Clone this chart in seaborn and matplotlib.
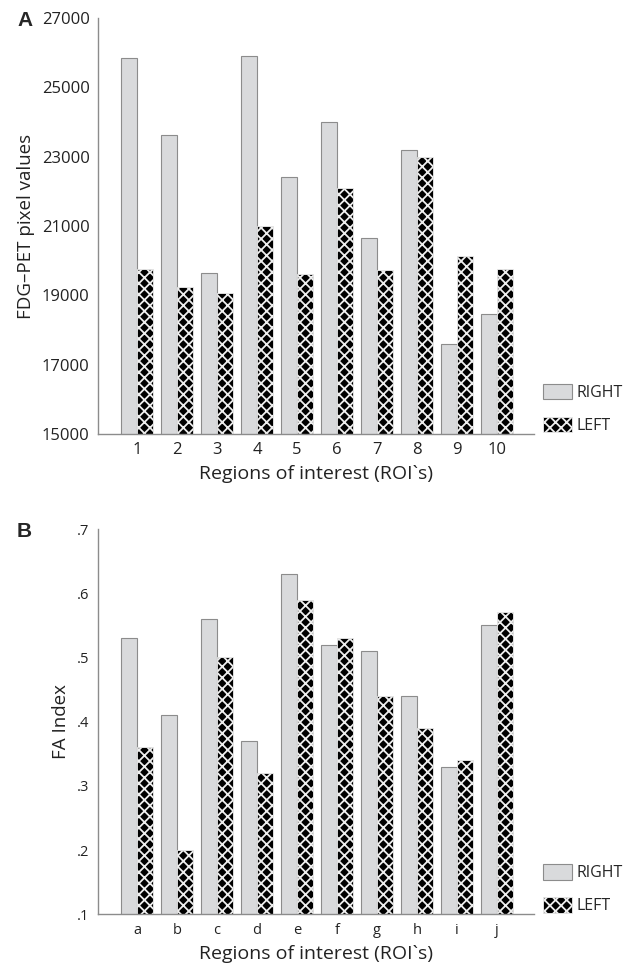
import numpy as np
import pandas as pd
import matplotlib
matplotlib.use('Agg')
import matplotlib.pyplot as plt
import seaborn as sns
from matplotlib.patches import Patch
from matplotlib.ticker import FuncFormatter

# Panel A: FDG-PET pixel values per ROI
roi_a = ['1', '2', '3', '4', '5', '6', '7', '8', '9', '10']
pet_right = [25850, 23620, 19640, 25900, 22400, 24010, 20660, 23180, 17590, 18460]
pet_left = [19750, 19250, 19080, 20990, 19600, 22100, 19720, 22980, 20130, 19750]

# Panel B: FA index per ROI
roi_b = ['a', 'b', 'c', 'd', 'e', 'f', 'g', 'h', 'i', 'j']
fa_right = [0.53, 0.41, 0.56, 0.37, 0.63, 0.52, 0.51, 0.44, 0.33, 0.55]
fa_left = [0.36, 0.20, 0.50, 0.32, 0.59, 0.53, 0.44, 0.39, 0.34, 0.57]

sides = ['RIGHT', 'LEFT']

sns.set_style('white')
plt.rcParams['font.family'] = ['Open Sans', 'DejaVu Sans']
plt.rcParams['hatch.linewidth'] = 1.3
plt.rcParams['hatch.color'] = '#eeeeee'

grey_fill = '#d9dadc'
grey_edge = '#8c8c8c'
axis_col = '#8c8c8c'
hatch_edge = '#eeeeee'


def long_table(cats, right, left):
    return pd.DataFrame({
        'roi': cats * 2,
        'value': right + left,
        'side': ['RIGHT'] * len(cats) + ['LEFT'] * len(cats),
    })


def draw_panel(ax, cats, right, left, ylim, yticks, ylabel, tick_size, fmt=None):
    df = long_table(cats, right, left)
    sns.barplot(data=df, x='roi', y='value', hue='side', hue_order=sides,
                order=cats, palette=[grey_fill, 'black'], width=0.8,
                errorbar=None, ax=ax, legend=False)
    # right side: plain light grey, left side: black with crosshatch
    for p in ax.containers[0]:
        p.set_facecolor(grey_fill)
        p.set_edgecolor(grey_edge)
        p.set_linewidth(0.8)
    for p in ax.containers[1]:
        p.set_facecolor('black')
        p.set_edgecolor(hatch_edge)
        p.set_hatch('xxx')
        p.set_linewidth(0.6)

    ax.set_ylim(*ylim)
    ax.set_xlim(-0.975, 9.925)
    ax.set_yticks(yticks)
    if fmt is not None:
        ax.yaxis.set_major_formatter(FuncFormatter(fmt))
    sns.despine(ax=ax)
    for s in ['left', 'bottom']:
        ax.spines[s].set_color(axis_col)
        ax.spines[s].set_linewidth(1.0)
    ax.tick_params(axis='both', which='major', direction='out', length=4,
                   width=1.0, color=axis_col, labelsize=tick_size,
                   labelcolor='#222222', pad=2)
    ax.set_ylabel(ylabel, fontsize=13.5, color='#222222', labelpad=5)
    ax.set_xlabel('Regions of interest (ROI`s)', fontsize=14,
                  color='#222222', labelpad=5)

    handles = [Patch(facecolor=grey_fill, edgecolor=grey_edge, linewidth=0.8),
               Patch(facecolor='black', edgecolor=hatch_edge, hatch='xxx',
                     linewidth=0.6)]
    ax.legend(handles, sides, loc='lower left', bbox_to_anchor=(1.02, 0.0),
              frameon=False, fontsize=11.5, handlelength=1.85,
              handleheight=1.1, handletextpad=0.25, labelspacing=1.0,
              borderpad=0, borderaxespad=0)


fig = plt.figure(figsize=(6.3, 9.65), dpi=100)
ax_a = fig.add_axes([0.1556, 0.5503, 0.692, 0.4311])
ax_b = fig.add_axes([0.1556, 0.0525, 0.692, 0.3993])

draw_panel(ax_a, roi_a, pet_right, pet_left, (15000, 27000),
           np.arange(15000, 27001, 2000), 'FDG\u2013PET pixel values', 12)
draw_panel(ax_b, roi_b, fa_right, fa_left, (0.1, 0.7),
           np.arange(0.1, 0.71, 0.1), 'FA Index', 10.5,
           fmt=lambda v, pos: ('%.1f' % v).lstrip('0'))

fig.text(0.027, 0.979, 'A', fontsize=15, fontweight='bold',
         family='Liberation Sans', va='center')
fig.text(0.027, 0.449, 'B', fontsize=15, fontweight='bold',
         family='Liberation Sans', va='center')

fig.savefig('out.png', dpi=100)
